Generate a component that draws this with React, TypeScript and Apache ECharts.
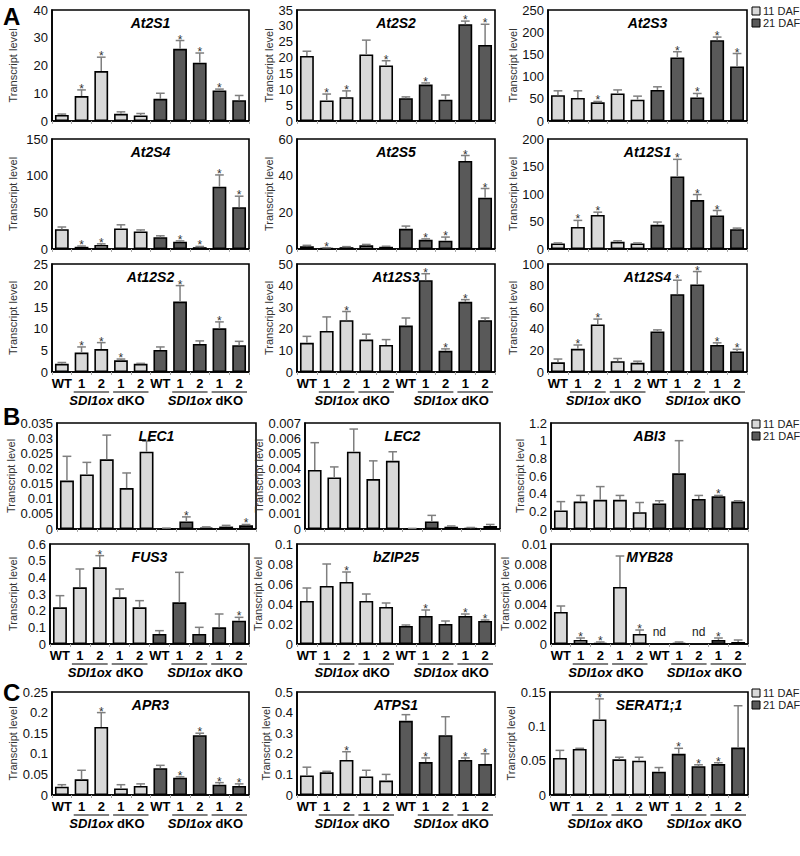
import React, { useEffect, useRef } from 'react';
import * as echarts from 'echarts';

const CATEGORIES = ['WT', '1', '2', '1', '2', 'WT', '1', '2', '1', '2'];
const SERIES_NAMES = ['11 DAF', '21 DAF'];
const GROUP_LABELS = ['SDI1ox', 'dKO'];
const SECTION_LETTERS = ['A', 'B', 'C'];

// ---- Panel A ----
const AT2S1_MEAN = [2.2, 9, 18, 2.6, 2, 8, 26, 21, 11, 7.5];
const AT2S1_UPPER = [2.5, 11.2, 23, 3.3, 2.7, 10, 29, 24.5, 11.5, 9.2];
const AT2S1_SIG = [0, 1, 1, 0, 0, 0, 1, 1, 1, 0];

const AT2S2_MEAN = [20.5, 6.5, 7.5, 21, 17.5, 7.2, 11.5, 6.7, 30.5, 24];
const AT2S2_UPPER = [22, 8.5, 9.5, 25.5, 19, 7.6, 12, 8.2, 31.5, 30.5];
const AT2S2_SIG = [0, 1, 1, 0, 1, 0, 1, 0, 1, 1];

const AT2S3_MEAN = [58, 52, 42, 62, 48, 70, 143, 53, 182, 123];
const AT2S3_UPPER = [68, 68, 44, 70, 56, 77, 156, 62, 189, 152];
const AT2S3_SIG = [0, 0, 1, 0, 0, 0, 1, 1, 1, 1];

const AT2S4_MEAN = [27, 3, 5.5, 28, 24, 16, 10, 2.5, 85, 57];
const AT2S4_UPPER = [30, 4, 7, 33, 26, 18, 11, 3.5, 101, 72];
const AT2S4_SIG = [0, 1, 1, 0, 0, 0, 1, 1, 1, 1];

const AT2S5_MEAN = [1.5, 0.5, 1, 2, 1.2, 11, 5, 4.5, 48, 28];
const AT2S5_UPPER = [2, 0.7, 1.3, 2.5, 1.5, 12.5, 5.5, 6.5, 51, 33];
const AT2S5_SIG = [0, 1, 0, 0, 0, 0, 1, 1, 1, 1];

const AT12S1_MEAN = [10, 40, 62, 13, 10, 44, 132, 89, 61, 36];
const AT12S1_UPPER = [11, 52, 67, 15, 11, 49, 163, 99, 70, 38];
const AT12S1_SIG = [0, 1, 1, 0, 0, 0, 1, 1, 1, 0];

const AT12S2_MEAN = [1.9, 4.5, 5.3, 2.7, 1.9, 5.1, 16.3, 6.5, 10.1, 6.2];
const AT12S2_UPPER = [2.2, 5.8, 6.8, 3.0, 2.0, 5.8, 20, 7.2, 11.6, 7.1];
const AT12S2_SIG = [0, 1, 1, 1, 0, 0, 1, 0, 1, 0];

const AT12S3_MEAN = [13.5, 19, 24, 15, 12.5, 21.5, 42.5, 9.8, 32.5, 24];
const AT12S3_UPPER = [16.5, 25.5, 28, 17.5, 15, 25, 45.5, 10.7, 33.5, 25];
const AT12S3_SIG = [0, 0, 1, 0, 0, 0, 1, 1, 1, 0];

const AT12S4_MEAN = [9, 21.5, 44, 10, 8.5, 37.5, 72, 81, 25, 19];
const AT12S4_UPPER = [12, 25, 49, 12.5, 10, 39, 85, 93, 27, 21];
const AT12S4_SIG = [0, 1, 1, 0, 0, 0, 1, 1, 1, 1];

// ---- Panel B ----
const LEC1_MEAN = [0.016, 0.018, 0.023, 0.0135, 0.0255, 0.0002, 0.0025, 0.0005, 0.0008, 0.0012];
const LEC1_UPPER = [0.024, 0.022, 0.031, 0.0185, 0.029, 0.0003, 0.004, 0.0007, 0.0012, 0.0015];
const LEC1_SIG = [0, 0, 0, 0, 0, 0, 1, 0, 0, 1];

const LEC2_MEAN = [0.0039, 0.0034, 0.0051, 0.0033, 0.0045, 0.00003, 0.0005, 0.00015, 0.00005, 0.0002];
const LEC2_UPPER = [0.0057, 0.0041, 0.0066, 0.0045, 0.0051, 0.00004, 0.0009, 0.0002, 0.0001, 0.0003];
const LEC2_SIG = [0, 0, 0, 0, 0, 0, 0, 0, 0, 0];

const ABI3_MEAN = [0.21, 0.31, 0.33, 0.33, 0.19, 0.29, 0.63, 0.34, 0.37, 0.31];
const ABI3_UPPER = [0.31, 0.38, 0.48, 0.38, 0.3, 0.32, 1.0, 0.38, 0.38, 0.32];
const ABI3_SIG = [0, 0, 0, 0, 0, 0, 0, 0, 1, 0];

const FUS3_MEAN = [0.22, 0.34, 0.46, 0.28, 0.22, 0.06, 0.25, 0.06, 0.1, 0.14];
const FUS3_UPPER = [0.29, 0.45, 0.53, 0.33, 0.26, 0.08, 0.43, 0.1, 0.18, 0.16];
const FUS3_SIG = [0, 0, 1, 0, 0, 0, 0, 0, 0, 1];

const BZIP25_MEAN = [0.043, 0.058, 0.062, 0.043, 0.037, 0.018, 0.028, 0.02, 0.028, 0.023];
const BZIP25_UPPER = [0.056, 0.08, 0.072, 0.05, 0.041, 0.019, 0.034, 0.023, 0.03, 0.024];
const BZIP25_SIG = [0, 0, 1, 0, 0, 0, 1, 0, 1, 1];

const MYB28_MEAN = [0.0032, 0.0004, 0.0001, 0.0057, 0.001, null, 0.0001, null, 0.0004, 0.0002];
const MYB28_UPPER = [0.0038, 0.0006, 0.0002, 0.0088, 0.0014, null, 0.0002, null, 0.0006, 0.0004];
const MYB28_SIG = [0, 1, 1, 0, 1, 0, 0, 0, 1, 0];
const MYB28_ND = [0, 0, 0, 0, 0, 1, 0, 1, 0, 0];

// ---- Panel C ----
const APR3_MEAN = [0.02, 0.038, 0.165, 0.016, 0.022, 0.065, 0.042, 0.145, 0.025, 0.022];
const APR3_UPPER = [0.025, 0.06, 0.2, 0.025, 0.027, 0.072, 0.044, 0.15, 0.03, 0.027];
const APR3_SIG = [0, 0, 1, 0, 0, 0, 1, 1, 1, 1];

const ATPS1_MEAN = [0.095, 0.11, 0.17, 0.09, 0.07, 0.36, 0.16, 0.29, 0.17, 0.15];
const ATPS1_UPPER = [0.135, 0.115, 0.21, 0.12, 0.1, 0.39, 0.18, 0.38, 0.18, 0.2];
const ATPS1_SIG = [0, 0, 1, 0, 0, 0, 1, 0, 1, 1];

const SERAT_MEAN = [0.054, 0.067, 0.11, 0.052, 0.05, 0.034, 0.06, 0.042, 0.045, 0.069];
const SERAT_UPPER = [0.065, 0.068, 0.14, 0.055, 0.055, 0.04, 0.068, 0.044, 0.047, 0.13];
const SERAT_SIG = [0, 0, 1, 0, 0, 0, 1, 1, 1, 0];

const NO_ND = [0, 0, 0, 0, 0, 0, 0, 0, 0, 0];

const PANELS = [
  { title: 'At2S1', mean: AT2S1_MEAN, upper: AT2S1_UPPER, sig: AT2S1_SIG, nd: NO_ND, max: 40, interval: 10 },
  { title: 'At2S2', mean: AT2S2_MEAN, upper: AT2S2_UPPER, sig: AT2S2_SIG, nd: NO_ND, max: 35, interval: 5 },
  { title: 'At2S3', mean: AT2S3_MEAN, upper: AT2S3_UPPER, sig: AT2S3_SIG, nd: NO_ND, max: 250, interval: 50 },
  { title: 'At2S4', mean: AT2S4_MEAN, upper: AT2S4_UPPER, sig: AT2S4_SIG, nd: NO_ND, max: 150, interval: 50 },
  { title: 'At2S5', mean: AT2S5_MEAN, upper: AT2S5_UPPER, sig: AT2S5_SIG, nd: NO_ND, max: 60, interval: 20 },
  { title: 'At12S1', mean: AT12S1_MEAN, upper: AT12S1_UPPER, sig: AT12S1_SIG, nd: NO_ND, max: 200, interval: 50 },
  { title: 'At12S2', mean: AT12S2_MEAN, upper: AT12S2_UPPER, sig: AT12S2_SIG, nd: NO_ND, max: 25, interval: 5 },
  { title: 'At12S3', mean: AT12S3_MEAN, upper: AT12S3_UPPER, sig: AT12S3_SIG, nd: NO_ND, max: 50, interval: 10 },
  { title: 'At12S4', mean: AT12S4_MEAN, upper: AT12S4_UPPER, sig: AT12S4_SIG, nd: NO_ND, max: 100, interval: 20 },
  { title: 'LEC1', mean: LEC1_MEAN, upper: LEC1_UPPER, sig: LEC1_SIG, nd: NO_ND, max: 0.035, interval: 0.005 },
  { title: 'LEC2', mean: LEC2_MEAN, upper: LEC2_UPPER, sig: LEC2_SIG, nd: NO_ND, max: 0.007, interval: 0.001 },
  { title: 'ABI3', mean: ABI3_MEAN, upper: ABI3_UPPER, sig: ABI3_SIG, nd: NO_ND, max: 1.2, interval: 0.2 },
  { title: 'FUS3', mean: FUS3_MEAN, upper: FUS3_UPPER, sig: FUS3_SIG, nd: NO_ND, max: 0.6, interval: 0.1 },
  { title: 'bZIP25', mean: BZIP25_MEAN, upper: BZIP25_UPPER, sig: BZIP25_SIG, nd: NO_ND, max: 0.1, interval: 0.02 },
  { title: 'MYB28', mean: MYB28_MEAN, upper: MYB28_UPPER, sig: MYB28_SIG, nd: MYB28_ND, max: 0.01, interval: 0.002 },
  { title: 'APR3', mean: APR3_MEAN, upper: APR3_UPPER, sig: APR3_SIG, nd: NO_ND, max: 0.25, interval: 0.05 },
  { title: 'ATPS1', mean: ATPS1_MEAN, upper: ATPS1_UPPER, sig: ATPS1_SIG, nd: NO_ND, max: 0.5, interval: 0.1 },
  { title: 'SERAT1;1', mean: SERAT_MEAN, upper: SERAT_UPPER, sig: SERAT_SIG, nd: NO_ND, max: 0.15, interval: 0.05 },
];

// layout (pixels): plot box left/right/top/bottom, y-name gap, x labels shown
const LAYOUT = [
  { l: 52, r: 249, t: 10, b: 121, ng: 34, xl: false },
  { l: 297, r: 495, t: 10, b: 121, ng: 20, xl: false },
  { l: 548, r: 747, t: 10, b: 121, ng: 16, xl: false },
  { l: 52, r: 249, t: 139, b: 249, ng: 34, xl: false },
  { l: 297, r: 495, t: 139, b: 249, ng: 20, xl: false },
  { l: 548, r: 747, t: 139, b: 249, ng: 16, xl: false },
  { l: 52, r: 249, t: 264, b: 372, ng: 34, xl: true },
  { l: 297, r: 495, t: 264, b: 372, ng: 20, xl: true },
  { l: 548, r: 747, t: 264, b: 372, ng: 16, xl: true },
  { l: 57, r: 256, t: 423, b: 529, ng: 36, xl: false },
  { l: 305, r: 500, t: 423, b: 529, ng: 32, xl: false },
  { l: 551, r: 748, t: 423, b: 529, ng: 18, xl: false },
  { l: 50, r: 249, t: 544, b: 644, ng: 32, xl: true },
  { l: 297, r: 495, t: 544, b: 644, ng: 20, xl: true },
  { l: 551, r: 748, t: 544, b: 644, ng: 18, xl: true },
  { l: 52, r: 249, t: 692, b: 795, ng: 34, xl: true },
  { l: 297, r: 495, t: 692, b: 795, ng: 20, xl: true },
  { l: 550, r: 748, t: 692, b: 795, ng: 16, xl: true },
];
const LETTER_POS = [{ x: 3, y: 4 }, { x: 3, y: 404 }, { x: 3, y: 680 }];
const LEGEND_TOPS = [7, 420, 689];

const FONT = '"Liberation Sans", Arial, Helvetica, sans-serif';
const LIGHT = '#d9d9d9';
const DARK = '#595959';
const ERR = '#7f7f7f';
const W = 800;
const H = 856;

function fmt(v: number) {
  return String(parseFloat(Number(v).toFixed(5)));
}

export default function App() {
  const ref = useRef<HTMLDivElement>(null);
  useEffect(() => {
    if (!ref.current) return;
    const chart = echarts.init(ref.current, undefined, { renderer: 'svg' });

    const grid: any[] = [];
    const xAxis: any[] = [];
    const yAxis: any[] = [];
    const series: any[] = [];
    const graphic: any[] = [];

    PANELS.forEach((p, i) => {
      const L = LAYOUT[i];
      grid.push({
        left: L.l, top: L.t, width: L.r - L.l, height: L.b - L.t,
        show: true, borderColor: '#000', borderWidth: 1.6, containLabel: false,
      });
      xAxis.push({
        type: 'category', gridIndex: i, data: CATEGORIES,
        axisLine: { show: true, lineStyle: { color: '#000', width: 1.6 } },
        axisTick: { show: true, length: 3, lineStyle: { color: '#aaa' } },
        axisLabel: {
          show: L.xl, interval: 0, margin: 5, color: '#000',
          fontFamily: FONT, fontSize: 13, fontWeight: 'bold',
        },
      });
      yAxis.push({
        type: 'value', gridIndex: i, min: 0, max: p.max, interval: p.interval,
        name: 'Transcript level', nameLocation: 'middle', nameGap: L.ng,
        nameTextStyle: { fontFamily: FONT, fontSize: 11, color: '#333' },
        axisLine: { show: true, lineStyle: { color: '#000', width: 1.6 } },
        axisTick: { show: false },
        splitLine: { show: false },
        axisLabel: { margin: 4, color: '#111', fontFamily: FONT, fontSize: 13, formatter: (v: number) => fmt(v) },
      });
      series.push({
        type: 'bar', name: SERIES_NAMES[0], xAxisIndex: i, yAxisIndex: i,
        data: p.mean.map((v, j) => (j < 5 && v !== null ? v : '-')),
        barWidth: '70%', barGap: '-100%',
        itemStyle: { color: LIGHT, borderColor: '#000', borderWidth: 1.6 },
      });
      series.push({
        type: 'bar', name: SERIES_NAMES[1], xAxisIndex: i, yAxisIndex: i,
        data: p.mean.map((v, j) => (j >= 5 && v !== null ? v : '-')),
        barWidth: '70%', barGap: '-100%',
        itemStyle: { color: DARK, borderColor: '#000', borderWidth: 1.6 },
      });
      series.push({
        type: 'custom', name: 'err' + i, xAxisIndex: i, yAxisIndex: i, z: 5,
        data: p.mean.map((v, j) => [j, v === null ? 0 : v, p.upper[j] === null ? 0 : p.upper[j], p.sig[j], p.nd[j]]),
        renderItem: (params: any, api: any) => {
          const x = api.value(0);
          const m = api.value(1);
          const u = api.value(2);
          const s = api.value(3);
          const nd = api.value(4);
          const cw = api.size([1, 0])[0];
          if (nd) {
            const b = api.coord([x, 0]);
            return {
              type: 'text',
              style: { text: 'nd', x: b[0], y: b[1] - 6, textAlign: 'center', textVerticalAlign: 'bottom', font: `12px ${FONT}`, fill: '#222' },
            };
          }
          const p0 = api.coord([x, m]);
          const p1 = api.coord([x, u]);
          const half = cw * 0.22;
          const children: any[] = [
            { type: 'line', shape: { x1: p0[0], y1: p0[1], x2: p1[0], y2: p1[1] }, style: { stroke: ERR, lineWidth: 1.5 } },
            { type: 'line', shape: { x1: p1[0] - half, y1: p1[1], x2: p1[0] + half, y2: p1[1] }, style: { stroke: ERR, lineWidth: 1.5 } },
          ];
          if (s) {
            children.push({
              type: 'text',
              style: { text: '*', x: p1[0], y: p1[1] + 5, textAlign: 'center', textVerticalAlign: 'bottom', font: `12px ${FONT}`, fill: '#333' },
            });
          }
          return { type: 'group', children };
        },
      });

      // title
      graphic.push({
        type: 'text', z: 10,
        style: {
          text: p.title, x: (L.l + L.r) / 2, y: L.t + 6, textAlign: 'center', textVerticalAlign: 'top',
          font: `italic bold 14px ${FONT}`, fill: '#000',
        },
      });

      // group underlines & labels
      if (L.xl) {
        const cw = (L.r - L.l) / 10;
        for (let g = 0; g < 2; g++) {
          for (let k = 0; k < 2; k++) {
            const start = g * 5 + 1 + k * 2;
            const x1 = L.l + start * cw + 2;
            const x2 = L.l + (start + 2) * cw - 2;
            graphic.push({ type: 'line', shape: { x1, y1: L.b + 20, x2, y2: L.b + 20 }, style: { stroke: '#000', lineWidth: 1.2 } });
            graphic.push({
              type: 'text',
              style: {
                text: GROUP_LABELS[k], x: (x1 + x2) / 2, y: L.b + 22, textAlign: 'center', textVerticalAlign: 'top',
                font: `${k === 0 ? 'italic ' : ''}bold 13px ${FONT}`, fill: '#000',
              },
            });
          }
        }
      }
    });

    SECTION_LETTERS.forEach((t, i) => {
      graphic.push({
        type: 'text',
        style: { text: t, x: LETTER_POS[i].x, y: LETTER_POS[i].y, textAlign: 'left', textVerticalAlign: 'top', font: `bold 24px ${FONT}`, fill: '#000' },
      });
    });

    // legends (one per section)
    LEGEND_TOPS.forEach((top) => {
      SERIES_NAMES.forEach((name, k) => {
        const y = top + k * 12;
        graphic.push({
          type: 'rect', shape: { x: 752, y, width: 8, height: 8 },
          style: { fill: k === 0 ? LIGHT : DARK, stroke: '#000', lineWidth: 1 },
        });
        graphic.push({
          type: 'text',
          style: { text: name, x: 763, y: y + 4, textAlign: 'left', textVerticalAlign: 'middle', font: `11px ${FONT}`, fill: '#222' },
        });
      });
    });

    chart.setOption({
      animation: false,
      backgroundColor: '#fff',
      grid, xAxis, yAxis, series, graphic,
    });
    return () => chart.dispose();
  }, []);
  return <div ref={ref} style={{ position: 'fixed', left: 0, top: 0, width: W, height: H }} />;
}
